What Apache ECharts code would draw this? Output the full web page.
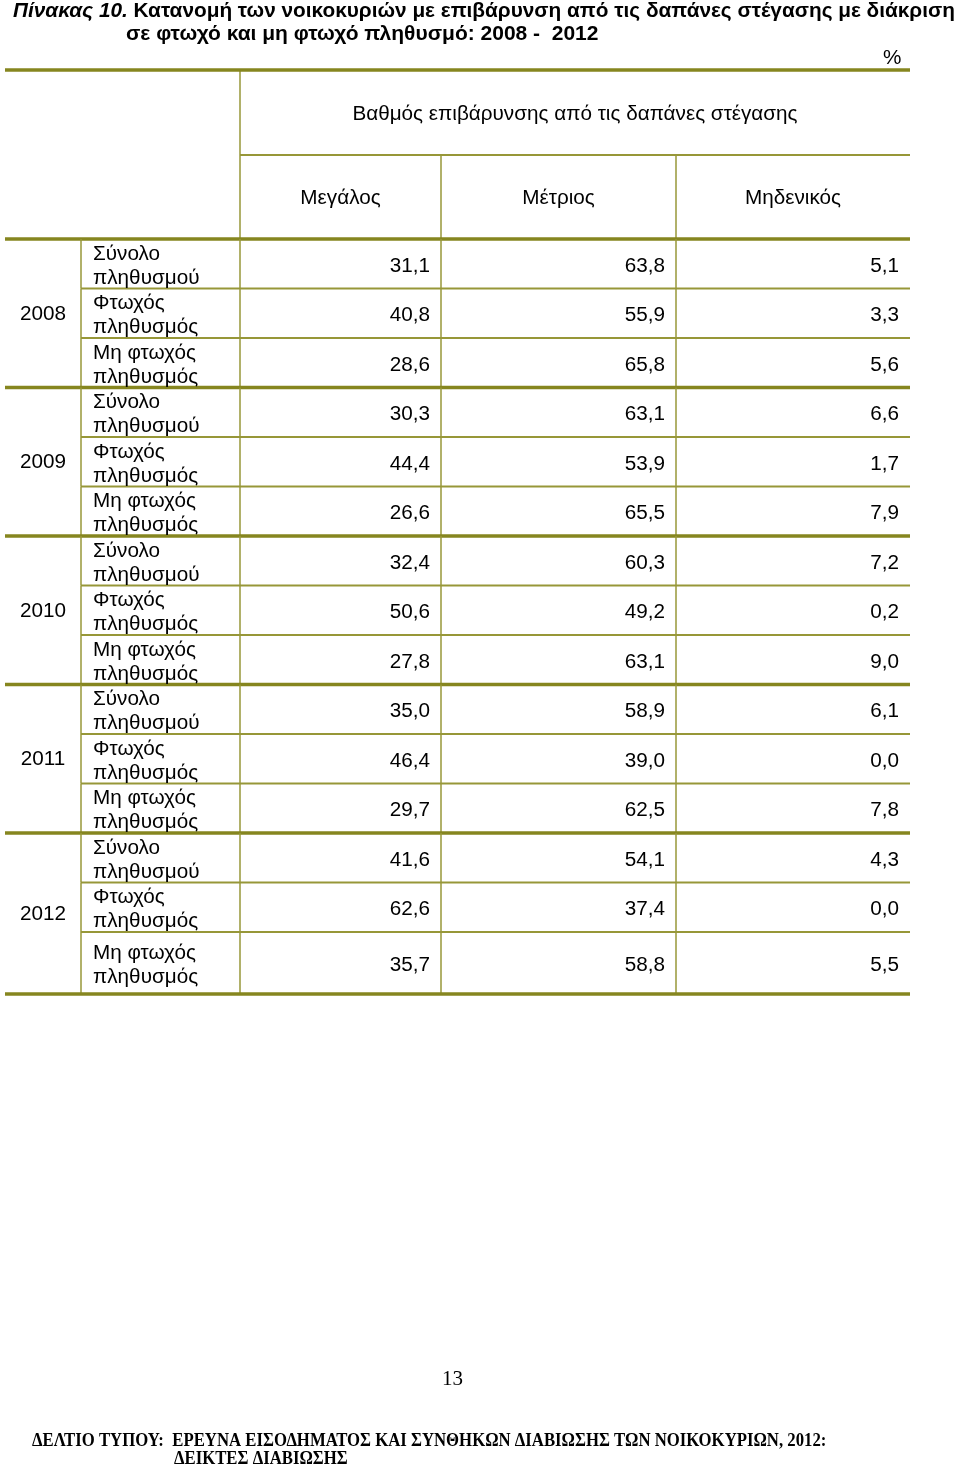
<!DOCTYPE html>
<html>
<head>
<meta charset="utf-8">
<script src="https://cdn.jsdelivr.net/npm/echarts@6/dist/echarts.min.js"></script>
<style>
html,body{margin:0;padding:0;background:#fff;}
#chart{width:960px;height:1465px;}
</style>
</head>
<body>
<div id="chart"></div>
<script>
// ---- data ----
const titleLine1Lead = 'Πίνακας 10.';
const titleLine1Rest = ' Κατανομή των νοικοκυριών με επιβάρυνση από τις δαπάνες στέγασης με διάκριση';
const titleLine2 = 'σε φτωχό και μη φτωχό πληθυσμό: 2008 -  2012';
const unitLabel = '%';
const spannerLabel = 'Βαθμός επιβάρυνσης από τις δαπάνες στέγασης';
const columnHeaders = ['Μεγάλος', 'Μέτριος', 'Μηδενικός'];
const years = ['2008', '2009', '2010', '2011', '2012'];
const groupLabels = ['Σύνολο\nπληθυσμού', 'Φτωχός\nπληθυσμός', 'Μη φτωχός\nπληθυσμός'];
const megalos   = [31.1, 40.8, 28.6, 30.3, 44.4, 26.6, 32.4, 50.6, 27.8, 35.0, 46.4, 29.7, 41.6, 62.6, 35.7];
const metrios   = [63.8, 55.9, 65.8, 63.1, 53.9, 65.5, 60.3, 49.2, 63.1, 58.9, 39.0, 62.5, 54.1, 37.4, 58.8];
const midenikos = [ 5.1,  3.3,  5.6,  6.6,  1.7,  7.9,  7.2,  0.2,  9.0,  6.1,  0.0,  7.8,  4.3,  0.0,  5.5];
const pageNumber = '13';
const footerLine1 = 'ΔΕΛΤΙΟ ΤΥΠΟΥ:  ΕΡΕΥΝΑ ΕΙΣΟΔΗΜΑΤΟΣ ΚΑΙ ΣΥΝΘΗΚΩΝ ΔΙΑΒΙΩΣΗΣ ΤΩΝ ΝΟΙΚΟΚΥΡΙΩΝ, 2012:';
const footerLine2 = 'ΔΕΙΚΤΕΣ ΔΙΑΒΙΩΣΗΣ';

// ---- layout (page units) ----
const PAGE_W = 960, PAGE_H = 1465;
const X = { left: 5, yearR: 81, labelR: 240, c1R: 441, c2R: 676, right: 910, pad: 11 };
const Y = { topRule: 70, spanRule: 155, headRule: 239, rowH: 49.5, lastRowH: 62, textShift: 2.5 };
const THICK = '#86861f', THIN = '#979738';
const FONT = 'Arial, "Liberation Sans", sans-serif';
const SERIF = '"Liberation Serif", "Times New Roman", serif';
const FS = 20.7;

const nRows = megalos.length;
function rowTop(i) { return Y.headRule + i * Y.rowH; }
function rowBottom(i) { return i === nRows - 1 ? rowTop(i) + Y.lastRowH : rowTop(i + 1); }
function fmt(v) { return v.toFixed(1).replace('.', ','); }

const bodyData = megalos.map((v, i) => [i, v, metrios[i], midenikos[i]]);

function line(api, x1, y1, x2, y2, color, w) {
  const p1 = api.coord([x1, y1]), p2 = api.coord([x2, y2]);
  return { type: 'line', shape: { x1: p1[0], y1: p1[1], x2: p2[0], y2: p2[1] },
           style: { stroke: color, lineWidth: w } };
}
function text(api, x, y, str, align, extra) {
  const p = api.coord([x, y]);
  return { type: 'text', x: p[0], y: p[1],
           style: Object.assign({ text: str, fill: '#000', fontSize: FS, fontFamily: FONT,
                                  align: align, verticalAlign: 'middle', lineHeight: 24 }, extra || {}) };
}

function renderHeader(params, api) {
  const ch = [];
  ch.push(line(api, X.labelR, Y.topRule, X.labelR, Y.headRule, THIN, 1.5));
  ch.push(line(api, X.labelR, Y.spanRule, X.right, Y.spanRule, THIN, 2));
  ch.push(line(api, X.c1R, Y.spanRule, X.c1R, Y.headRule, THIN, 1.5));
  ch.push(line(api, X.c2R, Y.spanRule, X.c2R, Y.headRule, THIN, 1.5));
  ch.push(line(api, X.left, Y.topRule, X.right, Y.topRule, THICK, 3.5));
  ch.push(line(api, X.left, Y.headRule, X.right, Y.headRule, THICK, 3.5));
  ch.push(text(api, (X.labelR + X.right) / 2, (Y.topRule + Y.spanRule) / 2 + 1.5, spannerLabel, 'center'));
  const bounds = [X.labelR, X.c1R, X.c2R, X.right];
  columnHeaders.forEach((h, k) => {
    ch.push(text(api, (bounds[k] + bounds[k + 1]) / 2, (Y.spanRule + Y.headRule) / 2 + 1.5, h, 'center'));
  });
  return { type: 'group', children: ch };
}

function renderRow(params, api) {
  const i = api.value(0);
  const top = rowTop(i), bot = rowBottom(i), mid = (top + bot) / 2 + Y.textShift;
  const ch = [];
  [X.yearR, X.labelR, X.c1R, X.c2R].forEach(x => ch.push(line(api, x, top, x, bot, THIN, 1.5)));
  const groupEnd = (i % 3 === 2);
  if (groupEnd) ch.push(line(api, X.left, bot, X.right, bot, THICK, 3.5));
  else ch.push(line(api, X.yearR, bot, X.right, bot, THIN, 2));
  if (i % 3 === 1) {
    const g = Math.floor(i / 3);
    const gTop = rowTop(g * 3), gBot = rowBottom(g * 3 + 2);
    ch.push(text(api, (X.left + X.yearR) / 2, (gTop + gBot) / 2 + 1, years[g], 'center'));
  }
  ch.push(text(api, X.yearR + 12, mid, groupLabels[i % 3], 'left'));
  ch.push(text(api, X.c1R - X.pad, mid, fmt(api.value(1)), 'right'));
  ch.push(text(api, X.c2R - X.pad, mid, fmt(api.value(2)), 'right'));
  ch.push(text(api, X.right - X.pad, mid, fmt(api.value(3)), 'right'));
  return { type: 'group', children: ch };
}

const chart = echarts.init(document.getElementById('chart'), null, { renderer: 'canvas' });
chart.setOption({
  backgroundColor: '#fff',
  animation: false,
  title: [
    { text: '{a|' + titleLine1Lead + '}{b|' + titleLine1Rest + '}', left: 13, top: 1, padding: 0,
      textStyle: { rich: {
        a: { fontSize: 20.8, fontWeight: 'bold', fontStyle: 'italic', fontFamily: FONT, color: '#000' },
        b: { fontSize: 20.8, fontWeight: 'bold', fontFamily: FONT, color: '#000' } } } },
    { text: titleLine2, left: 126, top: 24, padding: 0,
      textStyle: { fontSize: 21, fontWeight: 'bold', fontFamily: FONT, color: '#000' } },
    { text: unitLabel, left: 883, top: 48, padding: 0,
      textStyle: { fontSize: 20.7, fontWeight: 'normal', fontFamily: FONT, color: '#000' } },
    { text: pageNumber, left: 442, top: 1369, padding: 0,
      textStyle: { fontSize: 21, fontWeight: 'normal', fontFamily: SERIF, color: '#000' } }
  ],
  graphic: [
    { type: 'text', left: 32, top: 1432, scaleX: 0.93,
      style: { text: footerLine1, fontSize: 18, fontWeight: 'bold', fontFamily: SERIF, fill: '#000' } },
    { type: 'text', left: 174, top: 1450, scaleX: 0.93,
      style: { text: footerLine2, fontSize: 18, fontWeight: 'bold', fontFamily: SERIF, fill: '#000' } }
  ],
  grid: { left: 0, top: 0, width: PAGE_W, height: PAGE_H },
  xAxis: { type: 'value', min: 0, max: PAGE_W, show: false },
  yAxis: { type: 'value', min: 0, max: PAGE_H, inverse: true, show: false },
  series: [
    { type: 'custom', name: 'header', data: [[0]], renderItem: renderHeader, clip: false, silent: true },
    { type: 'custom', name: 'body', data: bodyData, renderItem: renderRow, clip: false, silent: true,
      encode: { x: -1, y: 0 } }
  ]
});
</script>
</body>
</html>
